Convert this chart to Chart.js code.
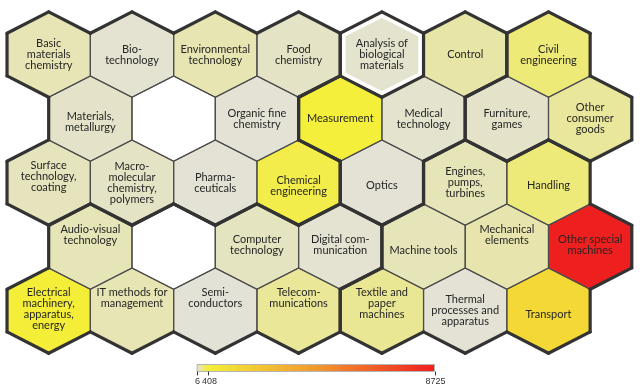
<!DOCTYPE html>
<html>
<head>
<meta charset="utf-8">
<script src="https://cdn.jsdelivr.net/npm/chart.js@4.4.0/dist/chart.umd.min.js"></script>
<style>
  html, body { margin: 0; padding: 0; background: #fff; }
  #canvas { display: block; }
</style>
</head>
<body>
<canvas id="canvas" width="643" height="391"></canvas>
<script>
// technology fields, one hexagon each (row by row, left to right)
const fields = [
  'Basic\nmaterials\nchemistry', 'Bio-\ntechnology', 'Environmental\ntechnology', 'Food\nchemistry',
  'Analysis of\nbiological\nmaterials', 'Control', 'Civil\nengineering',
  'Materials,\nmetallurgy', '', 'Organic fine\nchemistry', 'Measurement',
  'Medical\ntechnology', 'Furniture,\ngames', 'Other\nconsumer\ngoods',
  'Surface\ntechnology,\ncoating', 'Macro-\nmolecular\nchemistry,\npolymers', 'Pharma-\nceuticals',
  'Chemical\nengineering', 'Optics', 'Engines,\npumps,\nturbines', 'Handling',
  'Audio-visual\ntechnology', '', 'Computer\ntechnology', 'Digital com-\nmunication',
  'Machine tools', 'Mechanical\nelements', 'Other special\nmachines',
  'Electrical\nmachinery,\napparatus,\nenergy', 'IT methods for\nmanagement', 'Semi-\nconductors',
  'Telecom-\nmunications', 'Textile and\npaper\nmachines', 'Thermal\nprocesses and\napparatus', 'Transport'
];
const rowOf = [0,0,0,0,0,0,0, 1,1,1,1,1,1,1, 2,2,2,2,2,2,2, 3,3,3,3,3,3,3, 4,4,4,4,4,4,4];
const colOf = [0,1,2,3,4,5,6, 0,1,2,3,4,5,6, 0,1,2,3,4,5,6, 0,1,2,3,4,5,6, 0,1,2,3,4,5,6];
// C chemistry, I instruments, M mechanical, E electrical, O other fields
const groupOf = [
  'C','C','C','C','I','I','O',
  'C','C','C','I','I','O','O',
  'C','C','C','C','I','M','M',
  'E','E','E','E','M','M','M',
  'E','E','E','E','M','M','M'
];
const counts = [
  90, 20, 100, 50, 30, 125, 245,
  38, null, 8, 400, 28, 38, 155,
  70, 50, 10, 360, 12, 85, 240,
  85, null, 60, 18, 80, 110, 8725,
  470, 95, 6, 160, 175, 8, 1450
];
const scaleMin = 6;
const scaleMax = 8725;
const scaleTicks = [6, 408, 8725];
const highlighted = 'Analysis of\nbiological\nmaterials';

// colour ramp (value -> colour)
const rampStops = [[6, [227, 226, 214]], [408, [244, 239, 56]], [4366, [242, 152, 47]], [8725, [238, 31, 31]]];
function rampColor(v) {
  if (v == null) return '#ffffff';
  let a = rampStops[0], b = rampStops[rampStops.length - 1];
  for (let i = 0; i < rampStops.length - 1; i++) {
    if (v >= rampStops[i][0] && v <= rampStops[i + 1][0]) { a = rampStops[i]; b = rampStops[i + 1]; break; }
  }
  const t = b[0] === a[0] ? 0 : (v - a[0]) / (b[0] - a[0]);
  const c = a[1].map((x, k) => Math.round(x + (b[1][k] - x) * t));
  return 'rgb(' + c.join(',') + ')';
}

// small vertical nudges of label text (px)
const labelNudge = {
  'Materials,\nmetallurgy': 3, 'Surface\ntechnology,\ncoating': -6, 'Chemical\nengineering': 3,
  'Optics': 3, 'Handling': 3, 'Audio-visual\ntechnology': -12, 'Mechanical\nelements': -12,
  'Machine tools': 4, 'Computer\ntechnology': -2, 'Digital com-\nmunication': -2,
  'Other special\nmachines': -2, 'Electrical\nmachinery,\napparatus,\nenergy': -2,
  'IT methods for\nmanagement': -13, 'Semi-\nconductors': -13, 'Telecom-\nmunications': -13,
  'Textile and\npaper\nmachines': -7, 'Transport': 4
};

const neighbours = [[1, -1], [2, 0], [1, 1], [-1, 1], [-2, 0], [-1, -1]];

const hexLayer = {
  id: 'hexLayer',
  afterDatasetsDraw(chart) {
    const ctx = chart.ctx;
    const xs = chart.scales.x, ys = chart.scales.y;
    const halfW = Math.abs(xs.getPixelForValue(1) - xs.getPixelForValue(0));
    const rowH = Math.abs(ys.getPixelForValue(1) - ys.getPixelForValue(0));
    const hh = rowH * 2 / 3;
    const meta = chart.getDatasetMeta(0);
    const pts = chart.data.datasets[0].data;
    const where = {};
    pts.forEach((p, i) => { where[p.x + ',' + p.y] = i; });
    const corners = (cx, cy, inset) => {
      const w = halfW - inset, h = hh - inset * 1.15;
      return [[cx, cy - h], [cx + w, cy - h / 2], [cx + w, cy + h / 2],
              [cx, cy + h], [cx - w, cy + h / 2], [cx - w, cy - h / 2]];
    };
    const path = (c) => {
      ctx.beginPath();
      ctx.moveTo(c[0][0], c[0][1]);
      for (let k = 1; k < 6; k++) ctx.lineTo(c[k][0], c[k][1]);
      ctx.closePath();
    };
    ctx.save();
    // fills
    meta.data.forEach((el, i) => {
      path(corners(el.x, el.y, 0));
      ctx.fillStyle = rampColor(counts[i]);
      ctx.fill();
    });
    // thin inner edges
    ctx.strokeStyle = '#4d4d4d';
    ctx.lineWidth = 1.2;
    ctx.lineJoin = 'round';
    meta.data.forEach((el) => { path(corners(el.x, el.y, 0)); ctx.stroke(); });
    // thick edges on group boundaries
    ctx.strokeStyle = '#333333';
    ctx.lineWidth = 3.2;
    ctx.lineCap = 'round';
    meta.data.forEach((el, i) => {
      const c = corners(el.x, el.y, 0);
      const p = pts[i];
      neighbours.forEach((d, k) => {
        const j = where[(p.x + d[0]) + ',' + (p.y + d[1])];
        if (j === undefined || groupOf[j] !== groupOf[i] || fields[i] === highlighted) {
          ctx.beginPath();
          ctx.moveTo(c[k][0], c[k][1]);
          ctx.lineTo(c[(k + 1) % 6][0], c[(k + 1) % 6][1]);
          ctx.stroke();
        }
      });
    });
    // highlighted cell: white inner ring
    meta.data.forEach((el, i) => {
      if (fields[i] !== highlighted) return;
      path(corners(el.x, el.y, 3.6));
      ctx.strokeStyle = '#ffffff';
      ctx.lineWidth = 3.4;
      ctx.stroke();
    });
    // labels
    ctx.fillStyle = '#262626';
    ctx.font = '11px Lato, "Open Sans", sans-serif';
    ctx.textAlign = 'center';
    ctx.textBaseline = 'middle';
    const lh = 11;
    meta.data.forEach((el, i) => {
      if (!fields[i]) return;
      const lines = fields[i].split('\n');
      const y0 = el.y - (lines.length - 1) * lh / 2 + (labelNudge[fields[i]] || 0);
      lines.forEach((t, k) => ctx.fillText(t, el.x, y0 + k * lh));
    });
    // colour bar
    const bx0 = 197, bx1 = 435, by = 364, bh = 7;
    const px = (v) => bx0 + (v - scaleMin) / (scaleMax - scaleMin) * (bx1 - bx0);
    const grad = ctx.createLinearGradient(bx0, 0, bx1, 0);
    rampStops.forEach((s) => grad.addColorStop((s[0] - scaleMin) / (scaleMax - scaleMin), rampColor(s[0])));
    ctx.fillStyle = grad;
    ctx.fillRect(bx0, by, bx1 - bx0, bh);
    ctx.strokeStyle = '#b5b5b5';
    ctx.lineWidth = 1;
    ctx.strokeRect(bx0 + 0.5, by + 0.5, bx1 - bx0 - 1, bh);
    ctx.strokeStyle = '#333333';
    ctx.fillStyle = '#333333';
    ctx.font = '9px "Liberation Sans", Arial, sans-serif';
    ctx.textBaseline = 'top';
    scaleTicks.forEach((v) => {
      const x = Math.round(px(v)) + 0.5;
      ctx.beginPath();
      ctx.moveTo(x, by + bh + 1);
      ctx.lineTo(x, by + bh + 4);
      ctx.stroke();
      ctx.fillText(String(v), x + (v === scaleTicks[1] ? 1 : 0), by + bh + 6);
    });
    ctx.restore();
  }
};

const points = fields.map((f, i) => ({ x: colOf[i] * 2 + (rowOf[i] % 2), y: rowOf[i] }));

const config = {
  type: 'scatter',
  data: {
    datasets: [{
      label: 'Technology fields',
      data: points,
      pointRadius: 0,
      pointHoverRadius: 0
    }]
  },
  options: {
    responsive: false,
    animation: false,
    devicePixelRatio: 1,
    layout: { padding: 0 },
    plugins: { legend: { display: false }, tooltip: { enabled: false } },
    scales: {
      x: { type: 'linear', display: false, min: -1.169, max: 14.269 },
      y: { type: 'linear', display: false, reverse: true, min: -0.853, max: 5.256 }
    }
  },
  plugins: [hexLayer]
};
const canvas = document.getElementById('canvas');
const chart = new Chart(canvas, config);
</script>
</body>
</html>
